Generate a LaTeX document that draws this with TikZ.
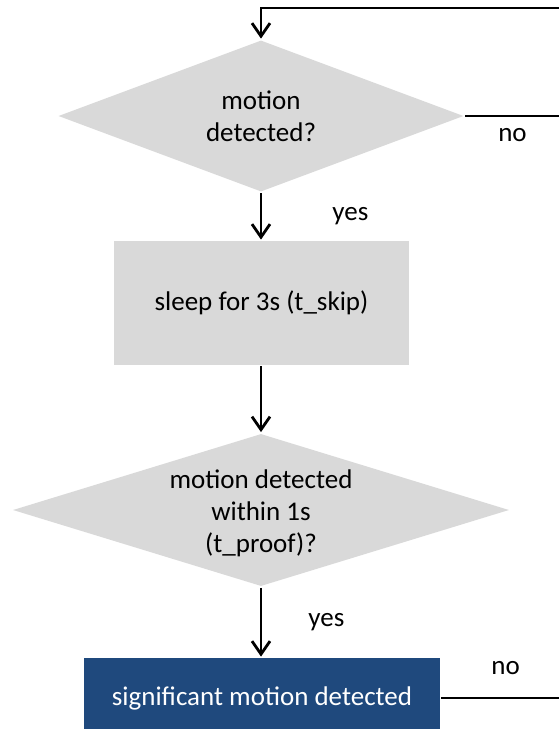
\documentclass[tikz,border=0pt]{standalone}
\usepackage{fontspec}
\setmainfont{Carlito}
\usetikzlibrary{shapes.geometric,arrows.meta,positioning}
\definecolor{boxgray}{HTML}{D9D9D9}
\definecolor{boxblue}{HTML}{1F497D}

\begin{document}
\begin{tikzpicture}[x=0.5pt,y=-0.5pt,
  >={Straight Barb[length=6.5pt,width=9pt]},
  line width=1.4pt,
  every node/.style={font=\fontsize{13.5}{16}\selectfont},
  decision/.style={diamond,fill=boxgray,inner sep=0pt},
  dtext/.style={inner sep=0pt,align=center},
  process/.style={rectangle,fill=boxgray,inner sep=0pt,align=center},
  result/.style={rectangle,fill=boxblue,text=white,inner sep=0pt,align=center},
  lbl/.style={inner sep=0pt}]
\useasboundingbox (0,0) rectangle (558,729);

% boxes
\node[decision,minimum width=203pt,minimum height=76pt] (motion) at (261,116) {};
\node[dtext] (motiontxt) at (motion.center) {motion\\detected?};
\node[process,minimum width=147.5pt,minimum height=62pt] (sleep) at (261.5,303)
  {sleep for 3s (t\_skip)};
\node[decision,minimum width=248.5pt,minimum height=76.5pt] (proof) at (261,510) {};
\node[dtext,yshift=-1.8pt] (prooftxt) at (proof.center)
  {motion detected\\within 1s\\(t\_proof)?};
\node[result,minimum width=178pt,minimum height=40pt] (signif) at (262,698)
  {significant motion detected};

% loop back, cut by the page edge
\coordinate (loop) at (570,8);
\coordinate (noA) at (570,116);
\coordinate (noB) at (570,698);

\draw[->] (loop) -| (motion.north);
\draw (motion.east) -- node[lbl,pos=0.45,below=5.5pt] {no} (noA);
\draw[->] (motion.south) -- node[lbl,midway,right=35pt] {yes} (sleep.north -| motion.south);
\draw[->] (sleep.south -| proof.north) -- (proof.north);
\draw[->] (proof.south) -- node[lbl,midway,right=23pt] {yes} (signif.north -| proof.south);
\draw (signif.east) -- node[lbl,pos=0.5,above=11pt] {no} (noB);

\end{tikzpicture}
\end{document}
